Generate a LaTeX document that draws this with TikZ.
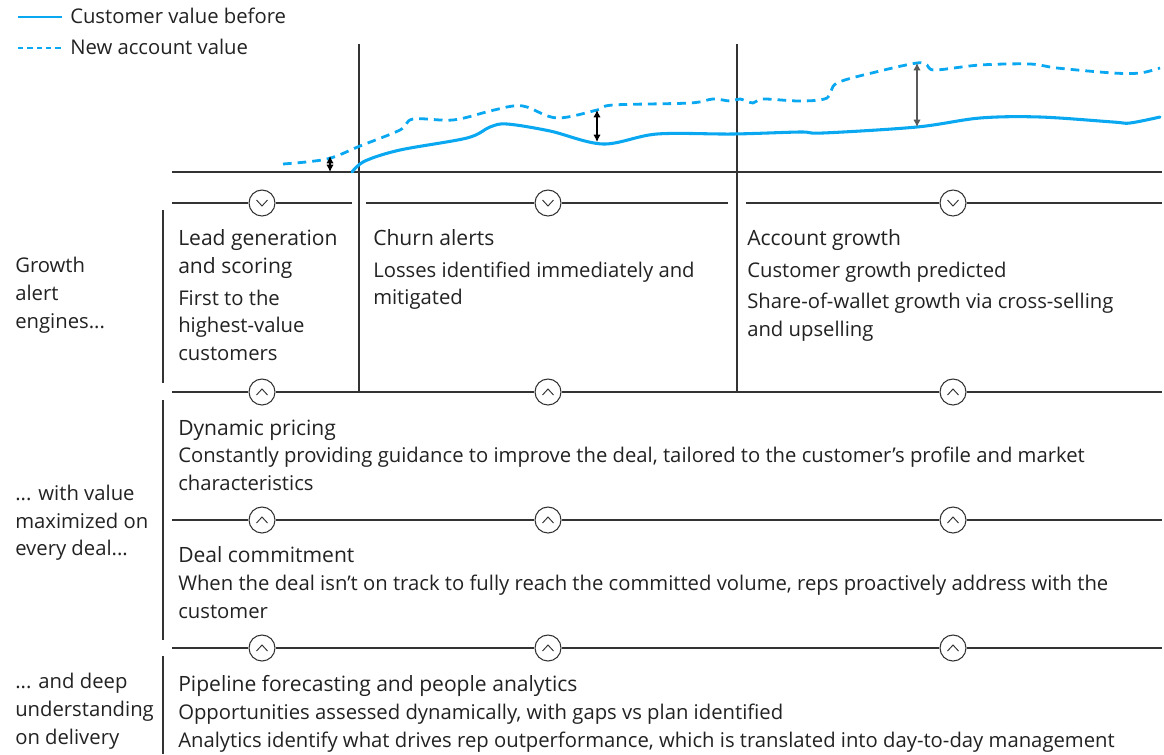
\documentclass[tikz,border=0pt]{standalone}
\usepackage{fontspec}
\setmainfont{Open Sans}
\usetikzlibrary{arrows.meta}
\definecolor{ink}{HTML}{222222}
\definecolor{rule}{HTML}{333333}
\definecolor{sky}{HTML}{0AA8F0}
\tikzset{
  rulel/.style={draw=rule, line width=0.9pt},
  chev/.style={circle, draw=rule, line width=0.8pt, fill=white, minimum size=19.5pt, inner sep=0pt},
  txt/.style={anchor=base west, inner sep=0pt, text=ink, font=\fontsize{15.2}{18}\selectfont},
  ttl/.style={txt, font=\fontsize{15.8}{18}\selectfont},
  solidc/.style={draw=sky, line width=2.3pt, line cap=round},
  dashc/.style={draw=sky, line width=2.1pt, dash pattern=on 6.5pt off 4.5pt},
  gap/.style={draw=black, line width=0.8pt, {Latex[length=5.5pt,width=5.5pt]}-{Latex[length=5.5pt,width=5.5pt]}},
  dn/.pic={\draw[rule, line width=0.7pt] (-5.5,-3) -- (0,3) -- (5.5,-3);},
  up/.pic={\draw[rule, line width=0.7pt] (-5.5,3) -- (0,-3) -- (5.5,3);}
}
\begin{document}
\begin{tikzpicture}[x=0.75pt, y=-0.75pt]
\useasboundingbox (0,0) rectangle (1164,754);
% legend
\coordinate (ls1) at (18,17); \coordinate (ls2) at (62,17);
\coordinate (ld1) at (18,48); \coordinate (ld2) at (62,48);
\draw[draw=sky, line width=1.3pt] (ls1) -- (ls2);
\draw[draw=sky, line width=1.3pt, dash pattern=on 4pt off 3pt] (ld1) -- (ld2);
\node[txt] (lgA) at (70,23) {Customer value before};
\node[txt] (lgB) at (70,54) {New account value};
% axes
\coordinate (ax1) at (172,172); \coordinate (ax2) at (1162,172);
\draw[rulel] (ax1) -- (ax2);
\coordinate (v1t) at (359,44); \coordinate (v1b) at (359,392);
\coordinate (v2t) at (737,44); \coordinate (v2b) at (737,392);
\draw[rulel] (v1t) -- (v1b);
\draw[rulel] (v2t) -- (v2b);
% left separators
\coordinate (s1t) at (163,210); \coordinate (s1b) at (163,383);
\coordinate (s2t) at (163,400); \coordinate (s2b) at (163,640);
\coordinate (s3t) at (163,656); \coordinate (s3b) at (163,754);
\draw[rulel] (s1t) -- (s1b);
\draw[rulel] (s2t) -- (s2b);
\draw[rulel] (s3t) -- (s3b);
% curves
\draw[dashc] plot[smooth, tension=0.55] coordinates {(283,164) (327,159) (360,146) (400,130) (413,119) (453,120) (490,111) (513,106) (527,107) (557,118) (597,110) (613,105) (690,103) (713,99) (730,101) (740,99) (753,103) (763,99) (800,101) (827,98) (837,83) (880,71) (917,63) (927,65) (935,70) (980,65) (1030,64) (1057,68) (1113,73) (1140,73) (1160,68)};
\draw[solidc] plot[smooth, tension=0.55] coordinates {(352,172) (365,161) (400,150) (467,138) (490,127) (507,124) (550,131) (603,144) (657,134) (733,134) (800,132) (823,133) (917,127) (980,118) (1040,117) (1113,122) (1130,123) (1160,117)};
% gap arrows
\coordinate (g1t) at (330,156); \coordinate (g1b) at (330,172);
\coordinate (g2t) at (597,110); \coordinate (g2b) at (597,142);
\coordinate (g3t) at (917,63); \coordinate (g3b) at (917,127);
\draw[gap] (g1t) -- (g1b);
\draw[gap] (g2t) -- (g2b);
\draw[gap, draw=gray!70!black] (g3t) -- (g3b);
% row 203 (down chevrons)
\node[chev] (a1) at (262,203) {}; \pic at (a1) {dn};
\node[chev] (a2) at (548,203) {}; \pic at (a2) {dn};
\node[chev] (a3) at (953,203) {}; \pic at (a3) {dn};
\coordinate (r1a) at (172,203); \coordinate (r1b) at (352,203);
\coordinate (r1c) at (366,203); \coordinate (r1d) at (728,203);
\coordinate (r1e) at (746,203); \coordinate (r1f) at (1162,203);
\draw[rulel] (r1a) -- (a1) -- (r1b);
\draw[rulel] (r1c) -- (a2) -- (r1d);
\draw[rulel] (r1e) -- (a3) -- (r1f);
% rows with up chevrons
\foreach \yy/\nm in {392/b, 520/c, 648/d}{
  \node[chev] (\nm1) at (262,\yy) {}; \pic at (\nm1) {up};
  \node[chev] (\nm2) at (548,\yy) {}; \pic at (\nm2) {up};
  \node[chev] (\nm3) at (953,\yy) {}; \pic at (\nm3) {up};
  \coordinate (\nm L) at (172,\yy); \coordinate (\nm R) at (1162,\yy);
  \draw[rulel] (\nm L) -- (\nm1) -- (\nm2) -- (\nm3) -- (\nm R);
}
% left labels
\node[txt] (la1) at (15,272) {Growth};
\node[txt] (la2) at (15,300) {alert};
\node[txt] (la3) at (15,328) {engines...};
\node[txt] (lb1) at (15,500) {... with value};
\node[txt] (lb2) at (15,528) {maximized on};
\node[txt] (lb3) at (15,555) {every deal...};
\node[txt] (lc1) at (15,688) {... and deep};
\node[txt] (lc2) at (15,716) {understanding};
\node[txt] (lc3) at (15,744) {on delivery};
% column texts
\node[ttl] (t1a) at (178,245) {Lead generation};
\node[ttl] (t1b) at (178,273) {and scoring};
\node[txt] (d1a) at (178,305) {First to the};
\node[txt] (d1b) at (178,332) {highest-value};
\node[txt] (d1c) at (178,360) {customers};
\node[ttl] (t2a) at (373,245) {Churn alerts};
\node[txt] (d2a) at (373,277) {Losses identified immediately and};
\node[txt] (d2b) at (373,304) {mitigated};
\node[ttl] (t3a) at (747,245) {Account growth};
\node[txt] (d3a) at (747,277) {Customer growth predicted};
\node[txt] (d3b) at (747,308) {Share-of-wallet growth via cross-selling};
\node[txt] (d3c) at (747,336) {and upselling};
% dynamic pricing
\node[ttl] (t4) at (178,435) {Dynamic pricing};
\node[txt] (d4a) at (178,462) {Constantly providing guidance to improve the deal, tailored to the customer’s profile and market};
\node[txt] (d4b) at (178,490) {characteristics};
% deal commitment
\node[ttl] (t5) at (178,562) {Deal commitment};
\node[txt] (d5a) at (178,590) {When the deal isn’t on track to fully reach the committed volume, reps proactively address with the};
\node[txt] (d5b) at (178,618) {customer};
% pipeline
\node[ttl] (t6) at (178,691) {Pipeline forecasting and people analytics};
\node[txt] (d6a) at (178,719) {Opportunities assessed dynamically, with gaps vs plan identified};
\node[txt] (d6b) at (178,747) {Analytics identify what drives rep outperformance, which is translated into day-to-day management};
\end{tikzpicture}
\end{document}
